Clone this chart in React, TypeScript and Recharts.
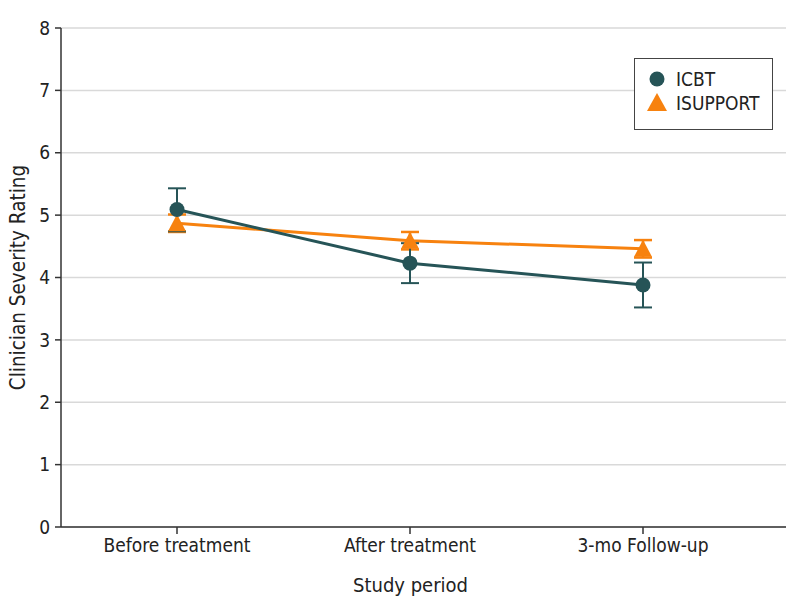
import React from 'react';
import { LineChart, Line, XAxis, YAxis, CartesianGrid, ErrorBar, Legend } from 'recharts';

const periods = ['Before treatment', 'After treatment', '3-mo Follow-up'];
const icbtMean = [5.09, 4.23, 3.88];
const icbtLow = [4.74, 3.91, 3.52];
const icbtHigh = [5.43, 4.55, 4.24];
const isupportMean = [4.87, 4.59, 4.46];
const isupportLow = [4.73, 4.45, 4.32];
const isupportHigh = [5.01, 4.73, 4.6];
const yTicks = [0, 1, 2, 3, 4, 5, 6, 7, 8];

const ICBT_COLOR = '#265457';
const ISUPPORT_COLOR = '#f7820f';
const FONT = '"DejaVu Sans Condensed", "DejaVu Sans", sans-serif';

const rows = periods.map((period, i) => ({
  period,
  icbt: icbtMean[i],
  icbtErr: [icbtMean[i] - icbtLow[i], icbtHigh[i] - icbtMean[i]],
  isupport: isupportMean[i],
  isupportErr: [isupportMean[i] - isupportLow[i], isupportHigh[i] - isupportMean[i]],
}));

const CircleDot = (props: any) => {
  const { cx, cy, index } = props;
  if (cx == null || cy == null) return <g key={index} />;
  return <circle key={index} cx={cx} cy={cy} r={7.5} fill={ICBT_COLOR} />;
};

const TriangleDot = (props: any) => {
  const { cx, cy, index } = props;
  if (cx == null || cy == null) return <g key={index} />;
  return (
    <path
      key={index}
      d={`M${cx},${cy - 9} L${cx + 9},${cy + 8} L${cx - 9},${cy + 8} Z`}
      fill={ISUPPORT_COLOR}
    />
  );
};

const LegendBox = () => (
  <div
    style={{
      border: '1.5px solid #444',
      background: '#fff',
      padding: '8px 0 11px 12px',
      fontFamily: FONT,
      fontSize: 19,
      color: '#222',
      lineHeight: '24px',
      boxSizing: 'border-box',
      width: 139,
      height: 72,
    }}
  >
    <div style={{ display: 'flex', alignItems: 'center' }}>
      <svg width={20} height={20} style={{ marginRight: 9 }}>
        <circle cx={10} cy={10} r={7.5} fill={ICBT_COLOR} />
      </svg>
      ICBT
    </div>
    <div style={{ display: 'flex', alignItems: 'center' }}>
      <svg width={20} height={20} style={{ marginRight: 9 }}>
        <path d="M10,0 L20,18 L0,18 Z" fill={ISUPPORT_COLOR} />
      </svg>
      ISUPPORT
    </div>
  </div>
);

export default function App() {
  return (
    <div style={{ position: 'absolute', left: 0, top: 0, background: '#fff' }}>
      <LineChart
        width={794}
        height={612}
        data={rows}
        margin={{ top: 28, right: 8, left: 0, bottom: 0 }}
      >
        <CartesianGrid vertical={false} stroke="#d9d9d9" strokeWidth={1.5} />
        <XAxis
          dataKey="period"
          type="category"
          scale="point"
          padding={{ left: 116, right: 143 }}
          height={85}
          tickSize={7}
          tickMargin={5}
          stroke="#333"
          strokeWidth={1.5}
          tick={{ fill: '#222', fontSize: 19, fontFamily: FONT }}
          label={{
            value: 'Study period',
            position: 'insideBottom',
            offset: 20,
            dx: -13,
            style: { fill: '#222', fontSize: 20, fontFamily: FONT },
          }}
        />
        <YAxis
          domain={[0, 8]}
          ticks={yTicks}
          width={61}
          tickSize={6}
          tickMargin={5}
          stroke="#333"
          strokeWidth={1.5}
          tick={{ fill: '#222', fontSize: 19, fontFamily: FONT }}
          label={{
            value: 'Clinician Severity Rating',
            angle: -90,
            position: 'insideLeft',
            offset: 18,
            style: { fill: '#222', fontSize: 20.5, fontFamily: FONT, textAnchor: 'middle' },
          }}
        />
        <Legend
          layout="horizontal"
          verticalAlign="middle"
          align="center"
          content={<LegendBox />}
          wrapperStyle={{ top: 58, left: 634, width: 139 }}
        />
        <Line
          dataKey="isupport"
          stroke={ISUPPORT_COLOR}
          strokeWidth={3}
          dot={<TriangleDot />}
          activeDot={false}
          isAnimationActive={false}
        >
          <ErrorBar dataKey="isupportErr" direction="y" width={9} stroke={ISUPPORT_COLOR} strokeWidth={2.5} />
        </Line>
        <Line
          dataKey="icbt"
          stroke={ICBT_COLOR}
          strokeWidth={3}
          dot={<CircleDot />}
          activeDot={false}
          isAnimationActive={false}
        >
          <ErrorBar dataKey="icbtErr" direction="y" width={9} stroke={ICBT_COLOR} strokeWidth={2} />
        </Line>
      </LineChart>
    </div>
  );
}
